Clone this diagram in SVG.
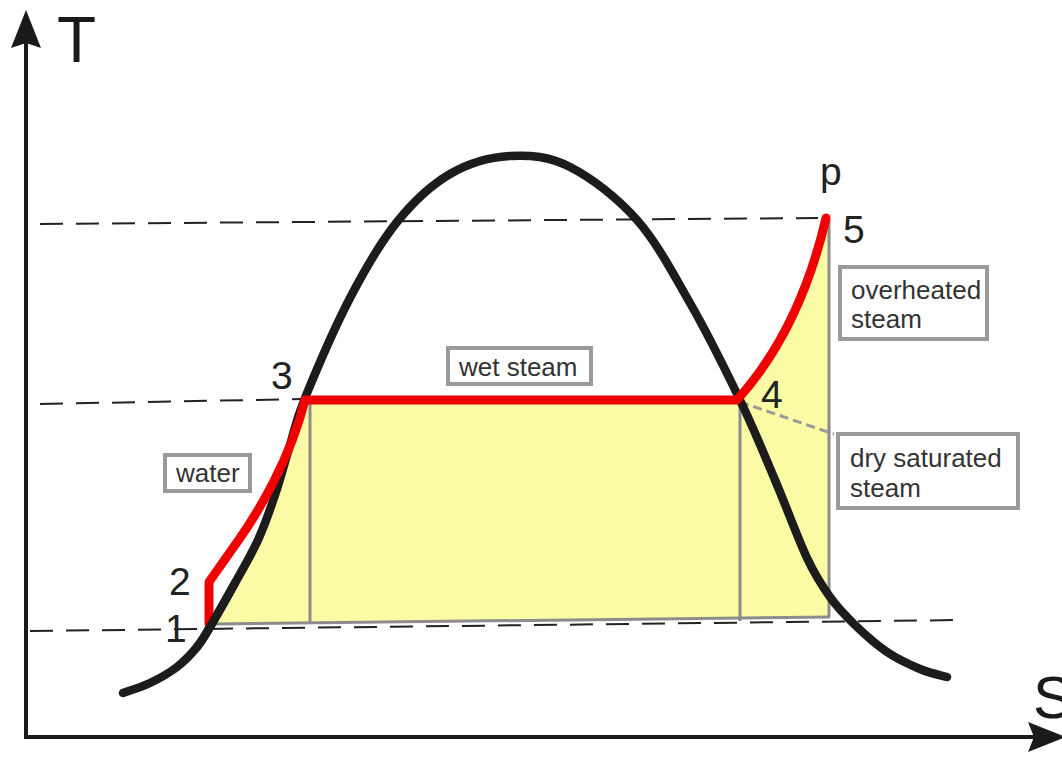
<svg xmlns="http://www.w3.org/2000/svg" width="1062" height="757" viewBox="0 0 1062 757">
<style>
.axis{stroke:#1a1a1a;stroke-width:4;fill:none}
.dash{stroke:#222;stroke-width:2;stroke-dasharray:23 13;fill:none}
.grey{stroke:#8c8c8c;stroke-width:3;fill:none}
.box{fill:#fff;stroke:#9a9a9a;stroke-width:4}
.lbl{font-family:"Liberation Sans",Arial,sans-serif;font-size:26px;fill:#333}
.num{font-family:"Liberation Sans",Arial,sans-serif;font-size:39px;fill:#222}
.big{font-family:"Liberation Sans",Arial,sans-serif;fill:#1a1a1a}
.sat{fill:none;stroke:#1c1c1c;stroke-width:8.5;stroke-linecap:round}
</style>
<rect width="1062" height="757" fill="#fff"/>
<g id="area">
<path d="M210,627 C216.3,616.3 227,597.5 235,583 C243,568.5 251.3,554.7 258,540 C264.7,525.3 269.7,510.8 275,495 C280.3,479.2 285,461.2 290,445 C295,428.8 295,422.5 305,398 L308,400 L738,400 Q800,330 826,218 L830,218 L830,617 L212,624 Z" fill="#fbfba6"/>
</g>
<g id="connectors">
<line class="dash" x1="40" y1="224" x2="818" y2="218"/>
<line class="dash" x1="40" y1="404" x2="302" y2="399"/>
<line class="dash" x1="30" y1="631" x2="962" y2="620"/>
<line class="grey" x1="310" y1="401" x2="310" y2="623"/>
<line class="grey" x1="740" y1="402" x2="740" y2="621"/>
<line class="grey" x1="829" y1="220" x2="829" y2="617"/>
<line class="grey" x1="212" y1="624" x2="830" y2="617" stroke-width="2.5"/>
<line x1="740" y1="402" x2="834" y2="434" stroke="#9a9a9a" stroke-width="3" stroke-dasharray="9 5"/>
<path id="saturation" class="sat" d="M123,693 C127.5,691.3 141,687.3 150,683 C159,678.7 169.2,673 177,667 C184.8,661 191.5,653.7 197,647 C202.5,640.3 203.7,637.7 210,627 C216.3,616.3 227,597.5 235,583 C243,568.5 251.3,554.7 258,540 C264.7,525.3 269.7,510.8 275,495 C280.3,479.2 285,461.2 290,445 C295,428.8 295,422.5 305,398 C315,373.5 334.7,327.3 350,298 C365.3,268.7 380.3,242.7 397,222 C413.7,201.3 431.2,185 450,174 C468.8,163 490,157.2 510,156 C530,154.8 548.8,156.3 570,167 C591.2,177.7 617,197.3 637,220 C657,242.7 672.8,273 690,303 C707.2,333 725.8,370.5 740,400 C754.2,429.5 763.8,453.7 775,480 C786.2,506.3 797.8,538.5 807,558 C816.2,577.5 822,585.8 830,597 C838,608.2 845.5,615.8 855,625 C864.5,634.2 876.2,644.7 887,652 C897.8,659.3 910,664.8 920,669 C930,673.2 942.5,675.7 947,677"/>
<path id="process" d="M209,624 L209,582 L240,538 C258,512 290,460 305,400 L737,400 Q800,330 826,218" fill="none" stroke="#f00000" stroke-width="9" stroke-linejoin="round" stroke-linecap="round"/>
<path class="sat" d="M197,647 C202.5,640.3 203.7,637.7 210,627 C216.3,616.3 227,597.5 235,583"/>
</g>
<g id="axes">
<line class="axis" x1="26" y1="737" x2="26" y2="42"/>
<polygon points="26,10 11,48 26,43 41,48" fill="#1a1a1a"/>
<line class="axis" x1="24" y1="737" x2="1035" y2="737"/>
<polygon points="1066,737 1028,722 1034,737 1028,752" fill="#1a1a1a"/>
<text class="big" x="57" y="62" font-size="64">T</text>
<text class="big" x="1033" y="718" font-size="60">S</text>
</g>
<g id="points">
<text class="num" x="165" y="642">1</text>
<text class="num" x="169" y="595">2</text>
<text class="num" x="271" y="389">3</text>
<text class="num" x="761" y="408">4</text>
<text class="num" x="843" y="243">5</text>
<text class="num" x="820" y="185">p</text>
</g>
<g id="water">
<rect class="box" x="165" y="455" width="85" height="36"/>
<text class="lbl" x="176" y="482">water</text>
</g>
<g id="wet-steam">
<rect class="box" x="448" y="348" width="143" height="36"/>
<text class="lbl" x="459" y="376">wet steam</text>
</g>
<g id="overheated-steam">
<rect class="box" x="840" y="267" width="147" height="72"/>
<text class="lbl" x="851" y="299">overheated</text>
<text class="lbl" x="851" y="328">steam</text>
</g>
<g id="dry-saturated-steam">
<rect class="box" x="838" y="434" width="180" height="74"/>
<text class="lbl" x="850" y="467">dry saturated</text>
<text class="lbl" x="850" y="497">steam</text>
</g>
</svg>
